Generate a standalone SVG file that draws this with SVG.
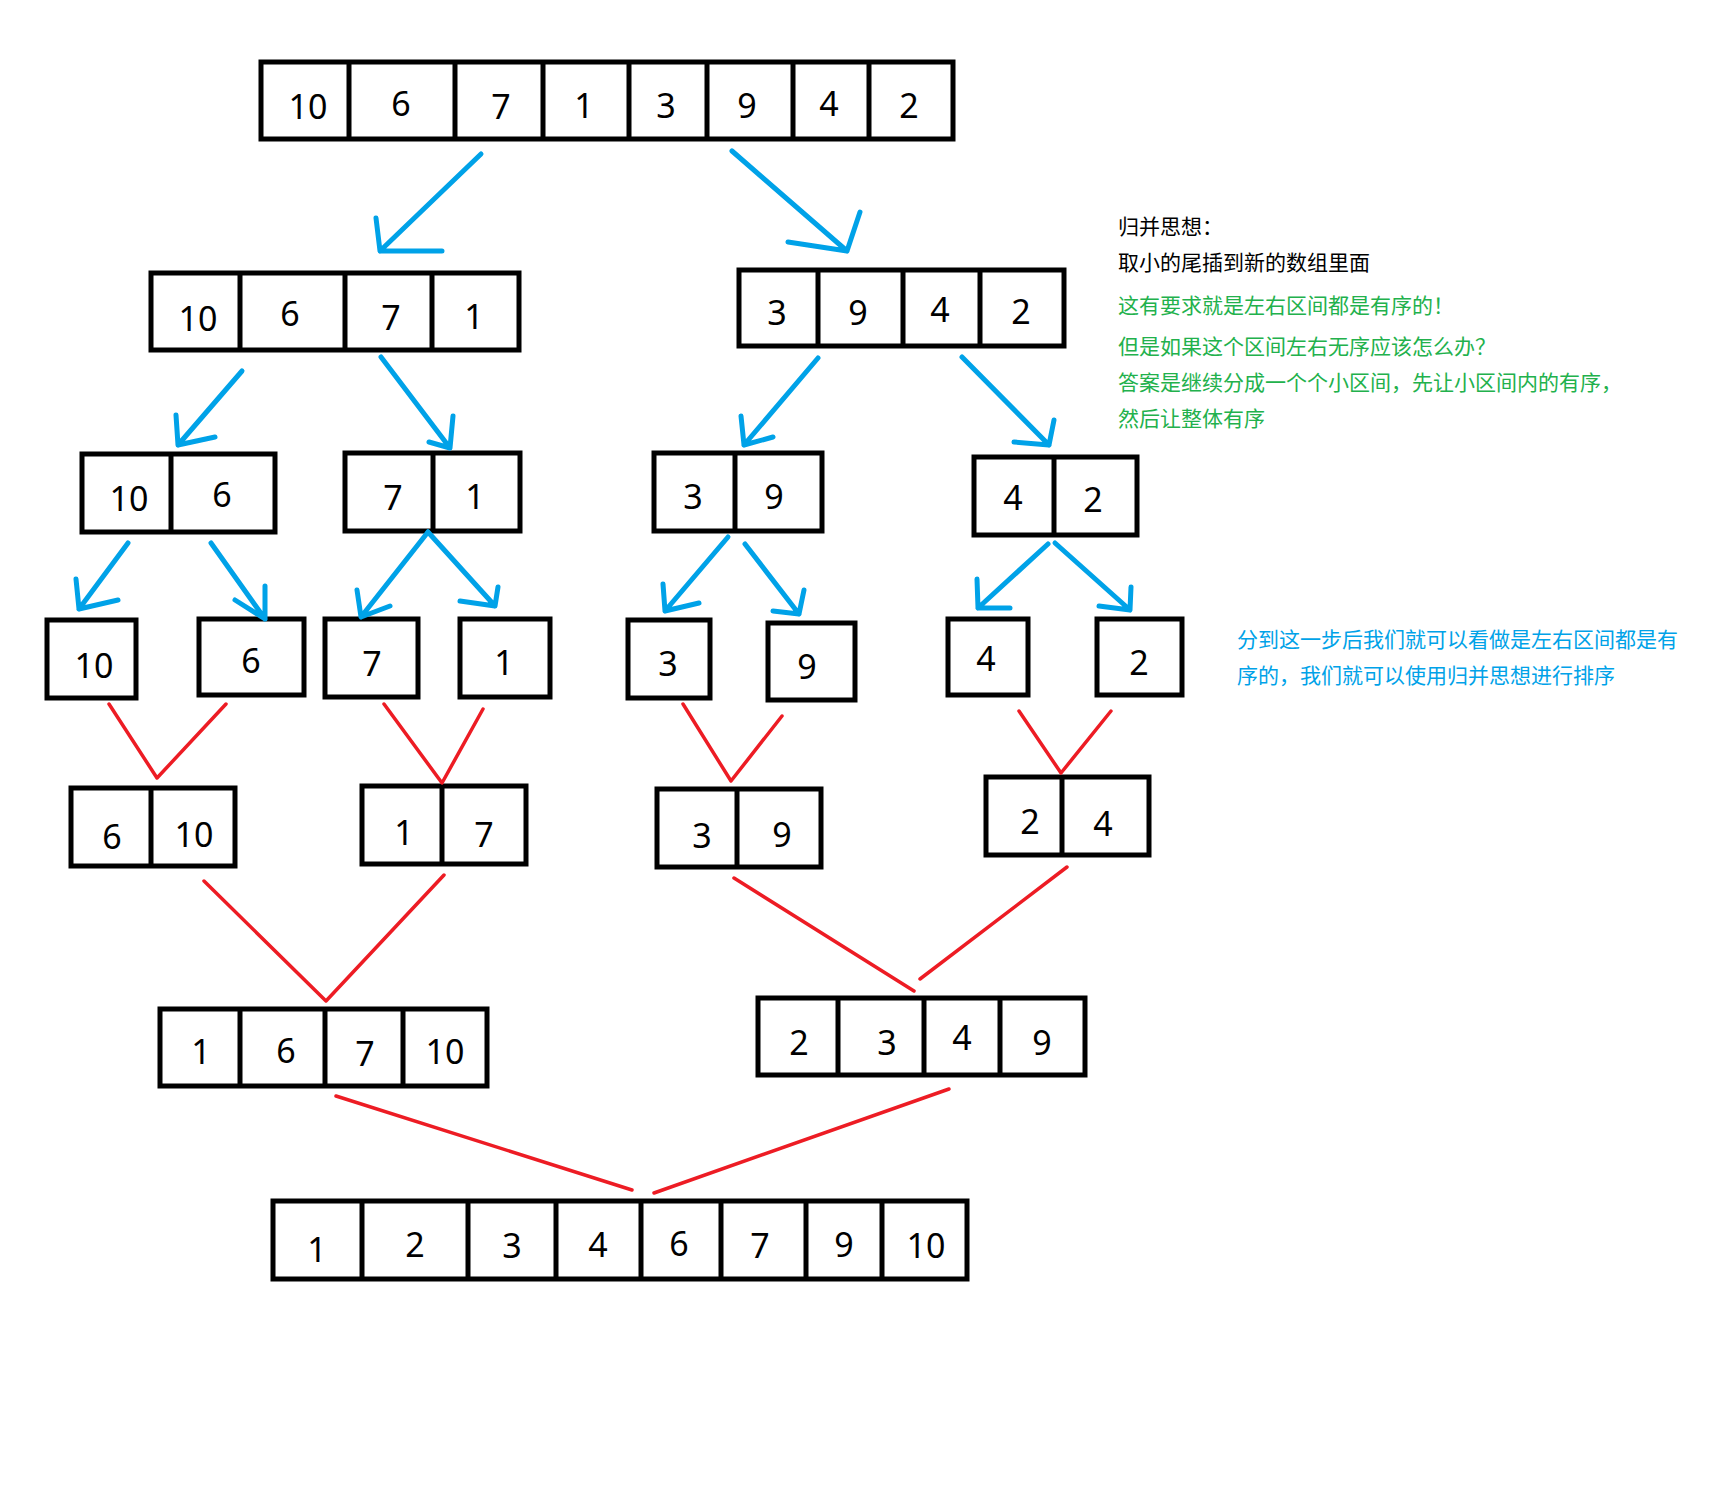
<svg xmlns="http://www.w3.org/2000/svg" width="1712" height="1489" viewBox="0 0 1712 1489">
<style>
.box{fill:none;stroke:#000;stroke-width:5;stroke-linejoin:miter}
.div{stroke:#000;stroke-width:5}
.n{font-family:"Noto Sans","Liberation Sans",sans-serif;font-size:34px;fill:#000;text-anchor:middle}
.blue{fill:none;stroke:#00A2E8;stroke-width:5;stroke-linecap:round;stroke-linejoin:round}
.red{fill:none;stroke:#ED1C24;stroke-width:3.5;stroke-linecap:round;stroke-linejoin:round}
.t{font-family:"Noto Sans CJK SC","Noto Sans",sans-serif;font-size:21px}
.tk{fill:#000}
.tg{fill:#22B14C}
.tb{fill:#00A2E8}
</style>
<rect width="1712" height="1489" fill="#fff"/>
<g id="r1">
<rect class="box" x="261" y="62" width="692" height="77"/>
<path class="div" d="M349 62V139M455 62V139M543 62V139M629 62V139M707 62V139M793 62V139M869 62V139"/>
<text class="n" x="308" y="119">10</text><text class="n" x="401" y="116">6</text><text class="n" x="501" y="119">7</text><text class="n" x="584" y="118">1</text><text class="n" x="666" y="118">3</text><text class="n" x="747" y="118">9</text><text class="n" x="829" y="116">4</text><text class="n" x="909" y="118">2</text>
</g>
<g id="r2a">
<rect class="box" x="151" y="273" width="368" height="77"/>
<path class="div" d="M240 273V350M345 273V350M432 273V350"/>
<text class="n" x="198" y="331">10</text><text class="n" x="290" y="326">6</text><text class="n" x="391" y="330">7</text><text class="n" x="474" y="329">1</text>
</g>
<g id="r2b">
<rect class="box" x="739" y="270" width="325" height="76"/>
<path class="div" d="M818 270V346M903 270V346M980 270V346"/>
<text class="n" x="777" y="325">3</text><text class="n" x="858" y="325">9</text><text class="n" x="940" y="322">4</text><text class="n" x="1021" y="324">2</text>
</g>
<g id="r3a">
<rect class="box" x="82" y="454" width="193" height="78"/>
<path class="div" d="M171 454V532"/>
<text class="n" x="129" y="511">10</text><text class="n" x="222" y="507">6</text>
</g>
<g id="r3b">
<rect class="box" x="345" y="453" width="175" height="78"/>
<path class="div" d="M433 453V531"/>
<text class="n" x="393" y="510">7</text><text class="n" x="475" y="509">1</text>
</g>
<g id="r3c">
<rect class="box" x="654" y="453" width="168" height="78"/>
<path class="div" d="M735 453V531"/>
<text class="n" x="693" y="509">3</text><text class="n" x="774" y="509">9</text>
</g>
<g id="r3d">
<rect class="box" x="974" y="457" width="163" height="78"/>
<path class="div" d="M1054 457V535"/>
<text class="n" x="1013" y="510">4</text><text class="n" x="1093" y="512">2</text>
</g>
<g id="r4a"><rect class="box" x="47" y="620" width="89" height="78"/><text class="n" x="94" y="678">10</text></g>
<g id="r4b"><rect class="box" x="199" y="619" width="105" height="76"/><text class="n" x="251" y="673">6</text></g>
<g id="r4c"><rect class="box" x="325" y="619" width="93" height="78"/><text class="n" x="372" y="676">7</text></g>
<g id="r4d"><rect class="box" x="460" y="619" width="90" height="78"/><text class="n" x="504" y="675">1</text></g>
<g id="r4e"><rect class="box" x="628" y="620" width="82" height="78"/><text class="n" x="668" y="676">3</text></g>
<g id="r4f"><rect class="box" x="768" y="623" width="87" height="77"/><text class="n" x="807" y="679">9</text></g>
<g id="r4g"><rect class="box" x="948" y="619" width="80" height="76"/><text class="n" x="986" y="671">4</text></g>
<g id="r4h"><rect class="box" x="1097" y="619" width="85" height="76"/><text class="n" x="1139" y="675">2</text></g>
<g id="r5a">
<rect class="box" x="71" y="788" width="164" height="78"/>
<path class="div" d="M151 788V866"/>
<text class="n" x="112" y="849">6</text><text class="n" x="194" y="847">10</text>
</g>
<g id="r5b">
<rect class="box" x="362" y="786" width="164" height="78"/>
<path class="div" d="M442 786V864"/>
<text class="n" x="404" y="845">1</text><text class="n" x="484" y="847">7</text>
</g>
<g id="r5c">
<rect class="box" x="657" y="789" width="164" height="78"/>
<path class="div" d="M737 789V867"/>
<text class="n" x="702" y="848">3</text><text class="n" x="782" y="847">9</text>
</g>
<g id="r5d">
<rect class="box" x="986" y="777" width="163" height="78"/>
<path class="div" d="M1062 777V855"/>
<text class="n" x="1030" y="834">2</text><text class="n" x="1103" y="836">4</text>
</g>
<g id="r6a">
<rect class="box" x="160" y="1009" width="327" height="77"/>
<path class="div" d="M240 1009V1086M325 1009V1086M403 1009V1086"/>
<text class="n" x="201" y="1064">1</text><text class="n" x="286" y="1063">6</text><text class="n" x="365" y="1066">7</text><text class="n" x="445" y="1064">10</text>
</g>
<g id="r6b">
<rect class="box" x="758" y="998" width="327" height="77"/>
<path class="div" d="M838 998V1075M924 998V1075M1000 998V1075"/>
<text class="n" x="799" y="1055">2</text><text class="n" x="887" y="1055">3</text><text class="n" x="962" y="1050">4</text><text class="n" x="1042" y="1055">9</text>
</g>
<g id="r7">
<rect class="box" x="273" y="1201" width="694" height="78"/>
<path class="div" d="M362 1201V1279M468 1201V1279M556 1201V1279M641 1201V1279M721 1201V1279M806 1201V1279M882 1201V1279"/>
<text class="n" x="317" y="1262">1</text><text class="n" x="415" y="1257">2</text><text class="n" x="512" y="1258">3</text><text class="n" x="598" y="1257">4</text><text class="n" x="679" y="1256">6</text><text class="n" x="760" y="1258">7</text><text class="n" x="844" y="1257">9</text><text class="n" x="926" y="1258">10</text>
</g>
<g id="connectors">
<path class="blue" d="M481 154L380 251M376 218L380 251L442 251"/>
<path class="blue" d="M732 151L847 251M860 212L847 251L788 242"/>
<path class="blue" d="M242 371L178 445M176 415L178 445L215 437"/>
<path class="blue" d="M381 357L450 448M453 416L450 448L429 442"/>
<path class="blue" d="M818 358L744 445M741 416L744 445L773 437"/>
<path class="blue" d="M962 357L1049 445M1054 420L1049 445L1014 442"/>
<path class="blue" d="M128 543L79 609M76 579L79 609L118 600"/>
<path class="blue" d="M211 543L265 619M265 586L265 619L235 600"/>
<path class="blue" d="M428 532L361 617M357 590L361 617L390 606"/>
<path class="blue" d="M428 532L495 606M498 587L495 606L460 601"/>
<path class="blue" d="M728 537L665 611M663 584L665 611L699 603"/>
<path class="blue" d="M745 544L799 614M804 590L799 614L773 611"/>
<path class="blue" d="M1048 544L978 608M977 579L978 608L1010 608"/>
<path class="blue" d="M1055 543L1130 610M1131 587L1130 610L1099 606"/>
<path class="red" d="M109 704L157 778L226 704"/>
<path class="red" d="M384 704L442 783L483 709"/>
<path class="red" d="M683 704L731 781L782 716"/>
<path class="red" d="M1019 711L1061 773L1111 711"/>
<path class="red" d="M204 881L326 1001L444 875"/>
<path class="red" d="M734 878L914 991M920 979L1067 867"/>
<path class="red" d="M336 1096L632 1190"/>
<path class="red" d="M654 1193L949 1089"/>
</g>
<g id="notes">
<text class="t tk" x="1118" y="234">归并思想：</text>
<text class="t tk" x="1118" y="270">取小的尾插到新的数组里面</text>
<text class="t tg" x="1118" y="313">这有要求就是左右区间都是有序的！</text>
<text class="t tg" x="1118" y="354">但是如果这个区间左右无序应该怎么办？</text>
<text class="t tg" x="1118" y="390">答案是继续分成一个个小区间，先让小区间内的有序，</text>
<text class="t tg" x="1118" y="426">然后让整体有序</text>
<text class="t tb" x="1237" y="647">分到这一步后我们就可以看做是左右区间都是有</text>
<text class="t tb" x="1237" y="683">序的，我们就可以使用归并思想进行排序</text>
</g>
</svg>
